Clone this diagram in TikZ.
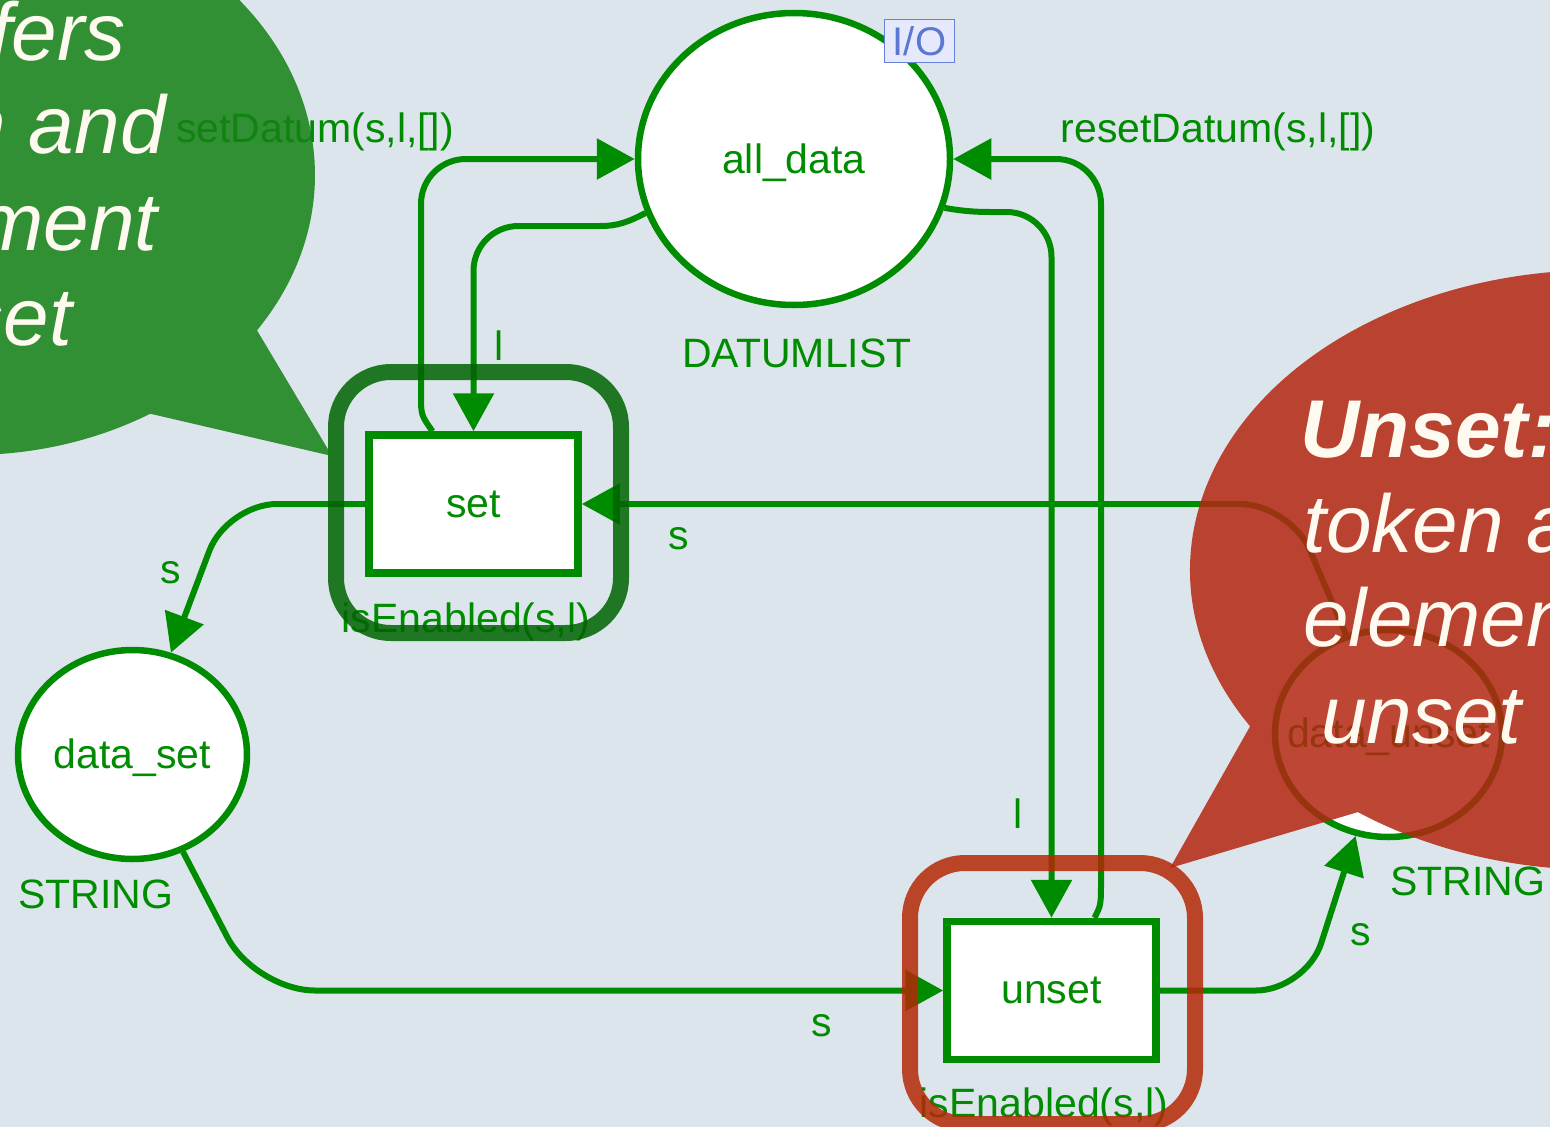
\documentclass[tikz,border=0pt]{standalone}
\usepackage{fontspec}
\setmainfont{Liberation Sans}
\usetikzlibrary{arrows.meta,shapes.geometric,calc}

\definecolor{bg}{RGB}{221,229,236}
\definecolor{netgreen}{RGB}{0,140,0}
\definecolor{ringgreen}{RGB}{0,100,0}
\definecolor{ringred}{RGB}{180,40,5}
\definecolor{bubblered}{RGB}{179,38,17}
\definecolor{bubblegreen}{RGB}{20,130,20}
\definecolor{cream}{RGB}{255,250,240}
\definecolor{iofill}{RGB}{230,232,252}
\definecolor{ioedge}{RGB}{100,130,220}
\definecolor{iotext}{RGB}{90,120,210}

\tikzset{
  netfont/.style={font=\fontsize{41}{49}\selectfont},
  place/.style={ellipse, draw=netgreen, fill=white, line width=6.5pt,
    inner xsep=-40pt, inner ysep=0pt, text=netgreen, netfont,
    text height=30pt, text depth=2pt},
  trans/.style={rectangle, draw=netgreen, fill=white, line width=7.5pt,
    inner sep=0pt, minimum width=209pt, minimum height=138pt,
    text=netgreen, netfont, text height=30pt, text depth=4pt},
  arc/.style={draw=netgreen, line width=6pt,
    -{Triangle[length=38pt,width=40pt]}},
  lbl/.style={text=netgreen, netfont, inner sep=0pt, anchor=base},
  ring/.style={rectangle, rounded corners=55pt, line width=16pt,
    minimum width=285pt, minimum height=261pt, inner sep=0pt,
    draw opacity=0.85},
  btext/.style={text=cream, font=\fontsize{82}{96}\selectfont\itshape,
    inner sep=0pt}
}

\begin{document}
\begin{tikzpicture}[x=1pt,y=-1pt]
\useasboundingbox (0,0) rectangle (1550,1127);
\clip (0,0) rectangle (1550,1127);
\fill[bg] (0,0) rectangle (1550,1127);

% places and transitions
\node[place, minimum width=312pt, minimum height=292pt] (alldata) at (794,159) {all\_data};
\node[place, minimum width=229pt, minimum height=209pt] (dataset) at (132.5,754.5) {data\_set};
\node[place, minimum width=227pt, minimum height=207pt] (dataunset) at (1388.5,733.5) {data\_unset};
\node[trans] (set) at (473.5,504) {set};
\node[trans] (unset) at (1051.5,990.5) {unset};

% I/O marker of the place all_data
\node[draw=ioedge, fill=iofill, line width=1.5pt, text=iotext,
  font=\fontsize{40}{48}\selectfont, minimum width=70pt, minimum height=43pt,
  inner sep=0pt] (io) at (919.5,41) {I/O};

% arcs between data places and transitions
\draw[arc, rounded corners=50pt] (set.west) -- (227,504) -- (dataset);
\draw[arc, rounded corners=60pt] (dataset) -- (255,990.5) -- (unset.west);
\draw[arc, rounded corners=50pt] (unset.east) -- (1306,990.5) -- (dataunset);
\draw[arc, rounded corners=50pt] (dataunset) -- (1290,504) -- (set.east);

% arcs to and from all_data
\draw[arc] ($(set.north)+(-41,0)$) .. controls (421,415) .. (421,395)
  -- (421,204) .. controls (421,179) and (441,159) .. (466,159) -- (alldata.west);
\draw[arc] (alldata.200) .. controls (628,222) and (618,226) .. (600,226)
  -- (518.5,226) .. controls (493.5,226) and (473.5,246) .. (473.5,271) -- (set.north);
\draw[arc] (alldata.342) .. controls (962,211) and (975,212) .. (990,212)
  -- (1006.5,212) .. controls (1031.5,212) and (1051.5,232) .. (1051.5,257) -- (unset.north);
\draw[arc] ($(unset.north)+(43,0)$) .. controls (1101,905) .. (1101,880)
  -- (1101,204) .. controls (1101,179) and (1081,159) .. (1056,159) -- (alldata.east);

% inscriptions
\node[lbl] (lsetdatum) at (315,142) {setDatum(s,l,[])};
\node[lbl] (lresetdatum) at (1218,142) {resetDatum(s,l,[])};
\node[lbl] (ldatumlist) at (797,367) {DATUMLIST};
\node[lbl] (lla) at (499,360) {l};
\node[lbl] (llb) at (1018,828) {l};
\node[lbl] (lsa) at (171,583) {s};
\node[lbl] (lsb) at (679,549) {s};
\node[lbl] (lsc) at (822,1036) {s};
\node[lbl] (lsd) at (1361,945) {s};
\node[lbl] (lguarda) at (466,632) {isEnabled(s,l)};
\node[lbl] (lguardb) at (1044,1117) {isEnabled(s,l)};
\node[lbl] (lstra) at (96,908) {STRING};
\node[lbl, anchor=base west] (lstrb) at (1390,895) {STRING};

% enabled-transition highlights
\node[ring, draw=ringgreen] (setring) at (478.5,502.5) {};
\node[ring, draw=ringred] (unsetring) at (1052.5,993.5) {};

% speech bubbles
\fill[bubblegreen, fill opacity=0.85] (332,456) -- ([shift={(-30,175)}]58.5:345 and 280)
  arc[start angle=58.5, end angle=393.7, x radius=345, y radius=280] -- cycle;
\fill[bubblered, fill opacity=0.85] (1170,868) -- ([shift={(1600,570)}]148.6:410 and 300)
  arc[start angle=148.6, end angle=486.2, x radius=410, y radius=300] -- cycle;

\node[btext, anchor=base east] (gta) at (126,60) {transfers};
\node[btext, anchor=base east] (gtb) at (166,153) {token and};
\node[btext, anchor=base east] (gtc) at (158,250) {element};
\node[btext, anchor=base east] (gtd) at (72,345) {set};

\node[btext, anchor=base west] (rta) at (1300,457) {\bfseries Unset:};
\node[btext, anchor=base west] (rtb) at (1303,552) {token and};
\node[btext, anchor=base west] (rtc) at (1303,646) {element};
\node[btext, anchor=base west] (rtd) at (1321,743) {unset};
\end{tikzpicture}
\end{document}
